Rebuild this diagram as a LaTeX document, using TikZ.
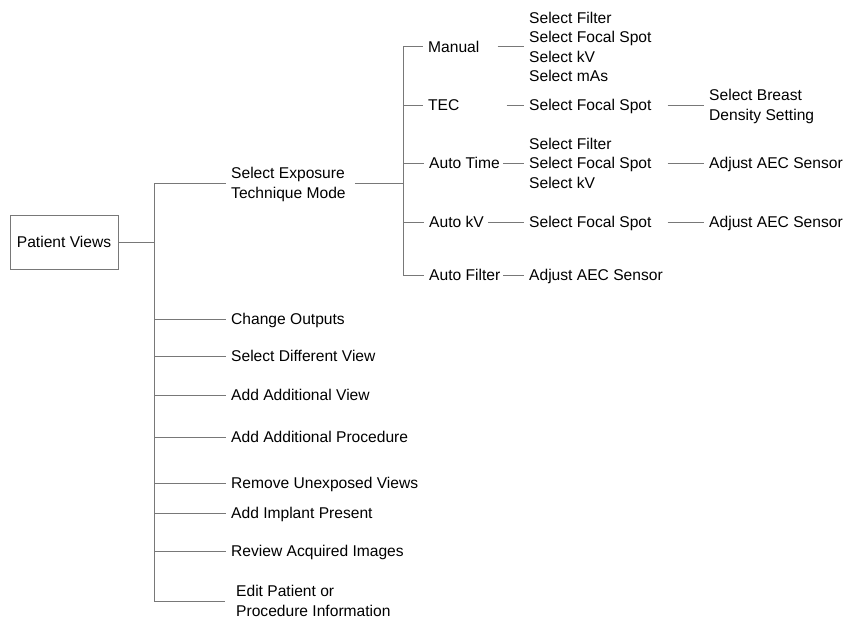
\documentclass[tikz,border=0pt]{standalone}
\usepackage{fontspec}
\setmainfont{Liberation Sans}
\definecolor{linegray}{RGB}{120,120,120}
\tikzset{
  lbl/.style={anchor=west, inner xsep=5pt, inner ysep=0pt, align=left,
    font=\fontsize{15.6}{19.5}\selectfont, text height=11.2pt, text depth=0pt},
  two/.style={lbl, text height=30.7pt},
  three/.style={lbl, text height=50.2pt},
  four/.style={lbl, text height=69.7pt},
  ln/.style={draw=linegray, line width=1pt},
}
\begin{document}
\begin{tikzpicture}[x=1pt, y=-1pt]
\useasboundingbox (0,0) rectangle (851,618);
% root
\node[draw=linegray, line width=1pt, minimum width=108pt, minimum height=54pt, inner sep=0pt,
  font=\fontsize{15.6}{19.5}\selectfont] (pv) at (64,242) {Patient Views};
\coordinate (j1) at (154,242);
\coordinate (j2) at (403,183);
% level 1
\node[two]  (ste)  at (226,183) {Select Exposure\\Technique Mode};
\node[lbl]  (co)   at (226,319) {Change Outputs};
\node[lbl]  (sdv)  at (226,356) {Select Different View};
\node[lbl]  (aav)  at (226,395) {Add Additional View};
\node[lbl]  (aap)  at (226,437) {Add Additional Procedure};
\node[lbl]  (ruv)  at (226,483) {Remove Unexposed Views};
\node[lbl]  (aip)  at (226,513) {Add Implant Present};
\node[lbl]  (rai)  at (226,551) {Review Acquired Images};
\node[two]  (edit) at (231,601) {Edit Patient or\\Procedure Information};
% level 2
\node[lbl]  (man)  at (423,47)  {Manual};
\node[lbl]  (tec)  at (423,105) {TEC};
\node[lbl]  (atm)  at (424,163) {Auto Time};
\node[lbl]  (akv)  at (424,222) {Auto kV};
\node[lbl]  (afl)  at (424,275) {Auto Filter};
% level 3
\node[four] (mblk) at (524,47)  {Select Filter\\Select Focal Spot\\Select kV\\Select mAs};
\node[lbl]  (tfs)  at (524,105) {Select Focal Spot};
\node[three](ablk) at (524,163) {Select Filter\\Select Focal Spot\\Select kV};
\node[lbl]  (kfs)  at (524,222) {Select Focal Spot};
\node[lbl]  (aec3) at (524,275) {Adjust AEC Sensor};
% level 4
\node[two]  (tbd)  at (704,105) {Select Breast\\Density Setting};
\node[lbl]  (aec1) at (704,163) {Adjust AEC Sensor};
\node[lbl]  (aec2) at (704,222) {Adjust AEC Sensor};
% connectors
\draw[ln] (pv.east) -- (j1);
\draw[ln] (j1 |- ste) -- (j1 |- edit);
\foreach \n in {ste,co,sdv,aav,aap,ruv,aip,rai}{\draw[ln] (j1 |- \n) -- (\n.west);}
\draw[ln] (j1 |- edit) -- ([xshift=-6pt]edit.west);
\draw[ln] ([xshift=4pt]ste.east) -- (j2);
\draw[ln] (j2 |- man) -- (j2 |- afl);
\foreach \n in {man,tec,atm,akv,afl}{\draw[ln] (j2 |- \n) -- (\n.west);}
\draw[ln] ([xshift=13pt]man.east) -- (mblk.west);
\draw[ln] ([xshift=42pt]tec.east) -- (tfs.west);
\draw[ln] ([xshift=11pt]tfs.east) -- (tbd.west);
\draw[ln] ([xshift=-2pt]atm.east) -- (ablk.west);
\draw[ln] ([xshift=11pt]ablk.east) -- (aec1.west);
\draw[ln] ([xshift=-1pt]akv.east) -- (kfs.west);
\draw[ln] ([xshift=11pt]kfs.east) -- (aec2.west);
\draw[ln] ([xshift=-2pt]afl.east) -- (aec3.west);
\end{tikzpicture}
\end{document}
